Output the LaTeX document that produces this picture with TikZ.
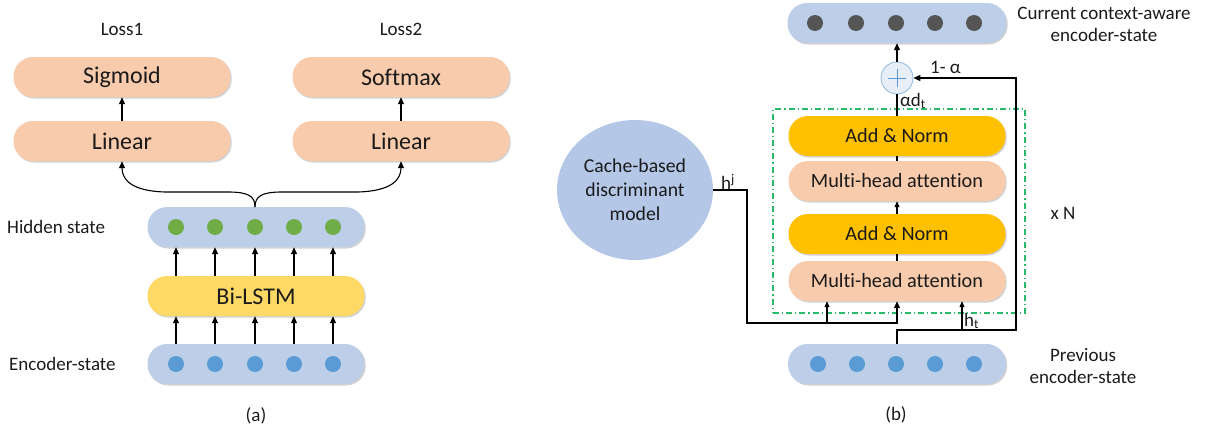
\documentclass[tikz,border=0pt]{standalone}
\usepackage{fontspec}
\setmainfont{Carlito}[Ligatures=NoCommon]
\usetikzlibrary{arrows.meta,shadows,shapes.geometric}
\definecolor{pillblue}{HTML}{BDCFE8}
\definecolor{salmon}{HTML}{F8CBAD}
\definecolor{yel}{HTML}{FFD966}
\definecolor{orng}{HTML}{FFC000}
\definecolor{ellblue}{HTML}{B4C7E7}
\definecolor{gdot}{HTML}{70AD47}
\definecolor{bdot}{HTML}{5B9BD5}
\definecolor{ddot}{HTML}{555555}
\definecolor{gline}{HTML}{00B050}
\definecolor{txt}{HTML}{1A1A1A}
\tikzset{
  pill/.style={rectangle, rounded corners=19.5pt, minimum width=217pt, minimum height=40pt,
    inner sep=0pt, text=txt, drop shadow={shadow xshift=1.2pt, shadow yshift=-1.5pt, opacity=.18, fill=black}},
  bigtxt/.style={font=\fontsize{24}{28}\selectfont},
  midtxt/.style={font=\fontsize{20.3}{24}\selectfont},
  lbl/.style={font=\fontsize{19}{22}\selectfont, text=txt, inner sep=0pt},
  dotg/.style={circle, fill=gdot, minimum size=16pt, inner sep=0pt},
  dotb/.style={circle, fill=bdot, minimum size=16pt, inner sep=0pt},
  dotd/.style={circle, fill=ddot, minimum size=16pt, inner sep=0pt},
  arr/.style={line width=1.1pt, -{Triangle[length=7pt,width=6pt]}},
  sarr/.style={line width=1.1pt, -{Triangle[length=6pt,width=5pt]}},
  ln/.style={line width=1.1pt},
}
\begin{document}
\begin{tikzpicture}[x=1pt,y=-1pt]
\useasboundingbox (0,0) rectangle (1206,434);
% ---------- panel (a) ----------
\node[lbl] (loss1) at (122,29) {Loss1};
\node[lbl] (loss2) at (401,29) {Loss2};
\node[pill, fill=salmon, bigtxt] (sig) at (122,77) {Sigmoid};
\node[pill, fill=salmon, bigtxt] (sof) at (401,77) {Softmax};
\node[pill, fill=salmon, bigtxt] (lin1) at (122,141) {Linear};
\node[pill, fill=salmon, bigtxt] (lin2) at (401,141) {Linear};
\node[pill, fill=pillblue] (hid) at (256,227) {};
\node[pill, fill=yel, bigtxt] (bil) at (256,296) {Bi-LSTM};
\node[pill, fill=pillblue] (enc) at (256,364) {};
\foreach \i/\x in {1/176,2/215,3/255,4/294,5/333}{
  \node[dotg] (h\i) at (\x,227) {};
  \node[dotb] (e\i) at (\x,364) {};
  \draw[arr] (bil.north -| h\i) -- (hid.south -| h\i);
  \draw[arr] (enc.north -| e\i) -- (bil.south -| e\i);
}
\draw[arr] (lin1.north) -- (sig.south);
\draw[arr] (lin2.north) -- (sof.south);
\coordinate (jn) at (255,207);
\draw[arr] (jn) .. controls (255,196) and (248,192) .. (228,192) -- (165,192)
  .. controls (132,191) and (122,180) .. (lin1.south);
\draw[arr] (jn) .. controls (255,196) and (262,192) .. (282,192) -- (358,192)
  .. controls (391,191) and (401,180) .. (lin2.south);
\node[lbl, anchor=west] (hs) at (7,227) {Hidden state};
\node[lbl, anchor=west] (es) at (9,364) {Encoder-state};
\node[lbl] (la) at (256,416) {(a)};
% ---------- panel (b) ----------
\node[draw=gline!85, line width=1.1pt, dash pattern=on 6pt off 3pt on 1.2pt off 3pt, minimum width=252pt, minimum height=204pt, inner sep=0pt] (blk) at (899,211) {};
\node[pill, fill=pillblue, minimum width=219pt] (cur) at (897,23) {};
\foreach \i/\x in {1/815,2/856,3/896,4/935,5/974}{
  \node[dotd] (c\i) at (\x,23) {};
}
\node[circle, fill=pillblue!35, draw=bdot!70, line width=0.8pt, minimum size=32pt, inner sep=0pt] (plus) at (897,78) {};
\draw[bdot, line width=0.9pt] ([xshift=-9pt]plus.center) -- ([xshift=9pt]plus.center);
\draw[bdot, line width=0.9pt] ([yshift=-9pt]plus.center) -- ([yshift=9pt]plus.center);
\node[pill, fill=orng, midtxt] (an1) at (897,136) {Add \& Norm};
\node[pill, fill=salmon, midtxt] (mh1) at (897,181) {Multi-head attention};
\node[pill, fill=orng, midtxt] (an2) at (897,234) {Add \& Norm};
\node[pill, fill=salmon, midtxt] (mh2) at (897,281) {Multi-head attention};
\node[pill, fill=pillblue, minimum width=218pt] (prev) at (897,364) {};
\foreach \i/\x in {1/818,2/857,3/896,4/935,5/974}{
  \node[dotb] (p\i) at (\x,364) {};
}
\node[ellipse, fill=ellblue, minimum width=156pt, minimum height=140pt, inner sep=0pt,
  align=center, lbl, font=\fontsize{19.7}{24}\selectfont] (cache) at (635,190) {Cache-based\\discriminant\\model};
% connectors
\draw[arr] (plus.north) -- (cur.south);
\draw[ln] (an1.north) -- (plus.south);
\draw[ln] (mh1.north) -- (an1.south);
\draw[sarr] (an2.north) -- (mh1.south);
\draw[ln] (mh2.north) -- (an2.south);
\coordinate (hjc) at (747,323);
\coordinate (br1) at (827,323);
\draw[arr] (cache.east) -| (hjc) -| (mh2.south);
\draw[sarr] (br1) -- (br1 |- mh2.south);
\coordinate (pc) at (1016,330);
\coordinate (htc) at (962,330);
\draw[arr] (prev.north) |- (pc) |- (plus.east);
\draw[sarr] (htc) -- (htc |- mh2.south);
% labels
\node[lbl, anchor=west] (hj) at (721,182) {h\textsuperscript{j}};
\node[lbl, anchor=west] (ht) at (964,321) {h\textsubscript{t}};
\node[lbl, anchor=west] (ad) at (900,101) {αd\textsubscript{t}};
\node[lbl, anchor=west] (oma) at (930,67) {1- α};
\node[lbl] (xn) at (1063,213) {x N};
\node[lbl, align=center] (curl) at (1104,24) {Current context-aware\\encoder-state};
\node[lbl, align=center] (prevl) at (1083,366) {Previous\\encoder-state};
\node[lbl] (lb) at (896,415) {(b)};
\end{tikzpicture}
\end{document}
